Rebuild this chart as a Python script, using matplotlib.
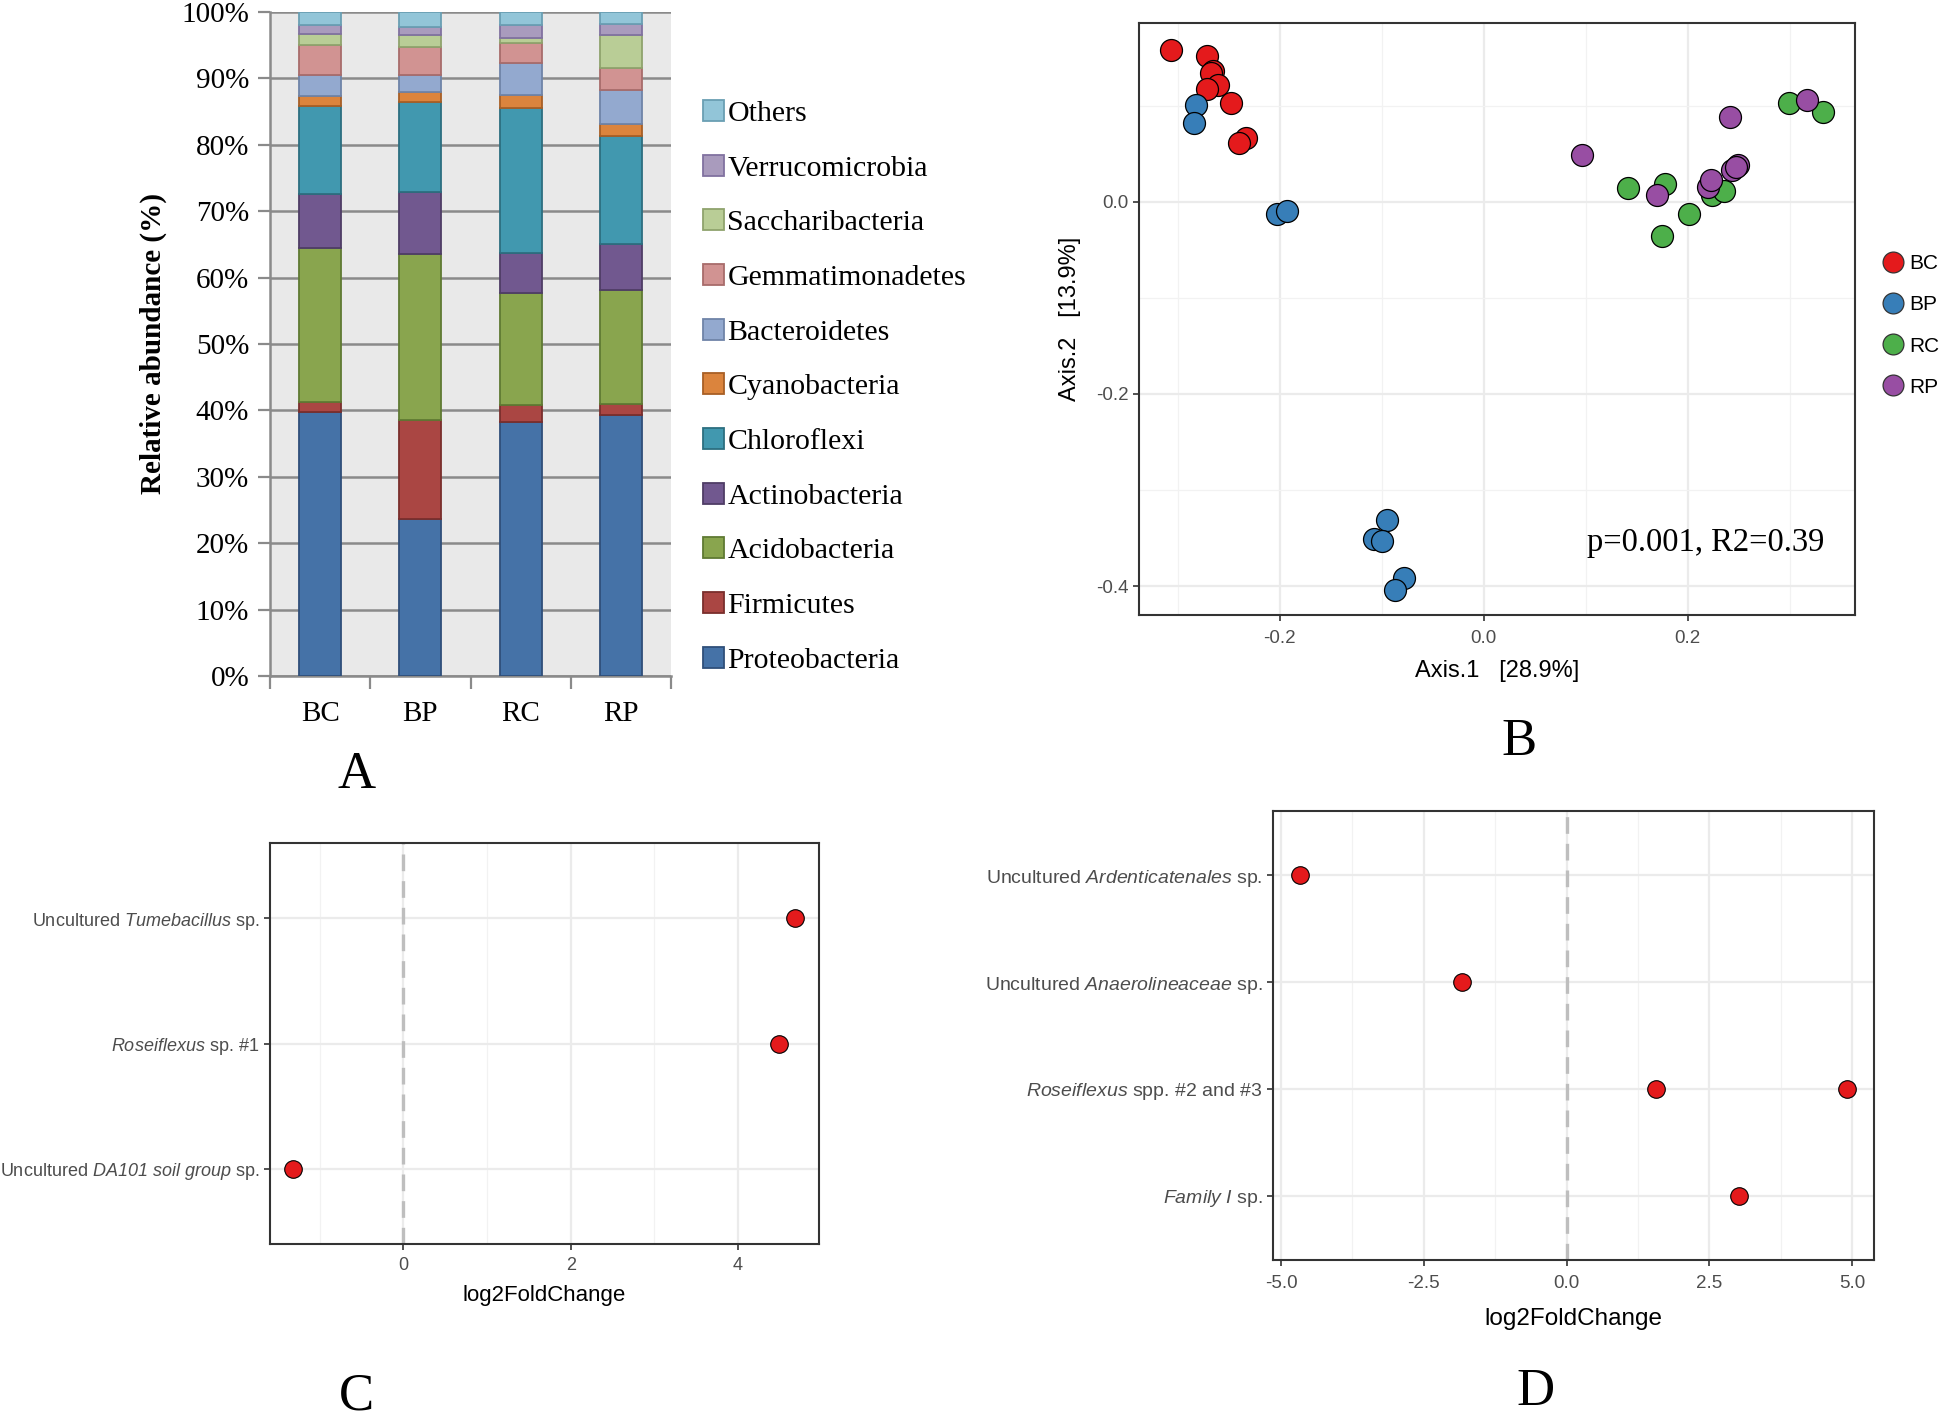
import matplotlib
matplotlib.use('Agg')
import matplotlib.pyplot as plt
from matplotlib.lines import Line2D
import numpy as np

plt.rcParams['mathtext.fontset'] = 'custom'
plt.rcParams['mathtext.rm'] = 'Liberation Sans'
plt.rcParams['mathtext.it'] = 'Liberation Sans:italic'
plt.rcParams['mathtext.sf'] = 'Liberation Sans:italic'
plt.rcParams['axes.unicode_minus'] = False

SERIF = 'Liberation Serif'
SANS = 'Liberation Sans'

# ---- Panel A: relative abundance (%) per phylum, samples BC, BP, RC, RP ----
samples = ['BC', 'BP', 'RC', 'RP']
proteobacteria = [39.7, 23.7, 38.2, 39.3]
firmicutes = [1.6, 14.9, 2.6, 1.7]
acidobacteria = [23.2, 25.0, 16.9, 17.1]
actinobacteria = [8.1, 9.3, 6.0, 6.9]
chloroflexi = [13.2, 13.6, 21.8, 16.3]
cyanobacteria = [1.6, 1.4, 2.0, 1.9]
bacteroidetes = [3.1, 2.6, 4.8, 5.1]
gemmatimonadetes = [4.6, 4.3, 3.1, 3.2]
saccharibacteria = [1.6, 1.7, 0.7, 5.0]
verrucomicrobia = [1.4, 1.2, 2.0, 1.7]
others = [1.9, 2.3, 1.9, 1.8]

phyla = ['Proteobacteria', 'Firmicutes', 'Acidobacteria', 'Actinobacteria', 'Chloroflexi',
         'Cyanobacteria', 'Bacteroidetes', 'Gemmatimonadetes', 'Saccharibacteria',
         'Verrucomicrobia', 'Others']
phylum_values = [proteobacteria, firmicutes, acidobacteria, actinobacteria, chloroflexi,
                 cyanobacteria, bacteroidetes, gemmatimonadetes, saccharibacteria,
                 verrucomicrobia, others]
phylum_colors = ['#4572A7', '#AA4643', '#89A54E', '#71588F', '#4198AF', '#DB843D',
                 '#93A9CF', '#D19392', '#B9CD96', '#A99BBD', '#92C5D8']
phylum_edges = ['#2F4F7A', '#7A2E2C', '#5F7A33', '#4F3D66', '#2C6F80', '#A85F25',
                '#6F84A8', '#A86C6B', '#8FA36D', '#8172A0', '#6A9FB3']

# ---- Panel B: PCoA coordinates ----
bc_x = [-0.307, -0.271, -0.265, -0.267, -0.261, -0.271, -0.248, -0.233, -0.240]
bc_y = [0.158, 0.152, 0.136, 0.134, 0.122, 0.117, 0.103, 0.066, 0.061]
bp_x = [-0.282, -0.284, -0.203, -0.193, -0.095, -0.108, -0.100, -0.078, -0.087]
bp_y = [0.101, 0.082, -0.013, -0.010, -0.331, -0.351, -0.353, -0.391, -0.404]
rc_x = [0.299, 0.333, 0.141, 0.178, 0.175, 0.201, 0.224, 0.236]
rc_y = [0.103, 0.093, 0.014, 0.018, -0.036, -0.013, 0.007, 0.011]
rp_x = [0.317, 0.241, 0.096, 0.170, 0.220, 0.223, 0.243, 0.249, 0.247]
rp_y = [0.106, 0.088, 0.049, 0.007, 0.015, 0.023, 0.033, 0.038, 0.036]
group_names = ['BC', 'BP', 'RC', 'RP']
group_colors = ['#E41A1C', '#377EB8', '#4DAF4A', '#984EA3']

# ---- Panel C: log2 fold change (bottom to top) ----
c_labels = ['Uncultured $\\mathsf{DA101\\ soil\\ group}$ sp.',
            '$\\mathsf{Roseiflexus}$ sp. #1',
            'Uncultured $\\mathsf{Tumebacillus}$ sp.']
c_taxon = [2, 1, 0]
c_lfc = [4.68, 4.49, -1.32]

# ---- Panel D: log2 fold change (bottom to top) ----
d_labels = ['$\\mathsf{Family\\ I}$ sp.',
            '$\\mathsf{Roseiflexus}$ spp. #2 and #3',
            'Uncultured $\\mathsf{Anaerolineaceae}$ sp.',
            'Uncultured $\\mathsf{Ardenticatenales}$ sp.']
d_taxon = [3, 2, 1, 1, 0]
d_lfc = [-4.67, -1.84, 1.57, 4.91, 3.02]

fig = plt.figure(figsize=(19.46, 14.19), dpi=100)


def fx(px):
    return px / 1946


def fy(py):
    return 1 - py / 1419


# Panel A - stacked bars
axA = fig.add_axes([fx(270), fy(676), fx(401), 664 / 1419])
axA.set_facecolor('#E9E9E9')
xpos = np.arange(1, len(samples) + 1)
bottom = np.zeros(len(samples))
handles = []
for name, vals, col, ec in zip(phyla, phylum_values, phylum_colors, phylum_edges):
    b = axA.bar(xpos, vals, width=0.42, bottom=bottom, color=col, edgecolor=ec,
                linewidth=1.3, label=name, zorder=3)
    handles.append(b)
    bottom += np.array(vals)
axA.set_xlim(0.5, len(samples) + 0.5)
axA.set_ylim(0, 100)
axA.set_yticks(range(0, 101, 10))
axA.set_yticklabels([f'{v}%' for v in range(0, 101, 10)], fontfamily=SERIF, fontsize=21)
axA.set_xticks(xpos)
axA.set_xticklabels(samples, fontfamily=SERIF, fontsize=21)
axA.set_xticks(np.arange(0.5, len(samples) + 1), minor=True)
axA.tick_params(axis='x', which='major', length=0, pad=18)
axA.tick_params(axis='x', which='minor', length=9, width=1.6, color='#8A8A8A')
axA.tick_params(axis='y', length=9, width=1.6, color='#8A8A8A', pad=6)
axA.yaxis.grid(True, color='#8A8A8A', linewidth=1.8)
axA.set_axisbelow(True)
for s in ['top', 'right']:
    axA.spines[s].set_visible(False)
for s in ['left', 'bottom']:
    axA.spines[s].set_color('#8A8A8A')
    axA.spines[s].set_linewidth(1.8)
axA.set_ylabel('Relative abundance (%)', fontfamily=SERIF, fontsize=21,
               fontweight='bold', labelpad=10)
axA.legend(handles[::-1], phyla[::-1], loc='upper left',
           bbox_to_anchor=(fx(691), fy(88)), bbox_transform=fig.transFigure,
           frameon=False, prop={'family': SERIF, 'size': 21.5},
           handlelength=0.7, handleheight=0.7, handletextpad=0.12,
           labelspacing=0.93, borderaxespad=0)


def bw_style(ax, tick_size, pad=3.5, border=1.5):
    for s in ax.spines.values():
        s.set_color('#333333')
        s.set_linewidth(border)
    ax.grid(True, which='major', color='#EBEBEB', linewidth=1.6, zorder=0)
    ax.grid(True, which='minor', color='#F2F2F2', linewidth=0.9, zorder=0)
    ax.set_axisbelow(True)
    ax.tick_params(which='major', length=4, width=1.2, color='#333333',
                   labelcolor='#4D4D4D', labelsize=tick_size, pad=pad)
    ax.tick_params(which='minor', length=0)
    for lab in ax.get_xticklabels() + ax.get_yticklabels():
        lab.set_fontfamily(SANS)


# Panel B - PCoA
axB = fig.add_axes([fx(1139), fy(615), fx(716), 592 / 1419])
groups_x = [bc_x, bp_x, rc_x, rp_x]
groups_y = [bc_y, bp_y, rc_y, rp_y]
for name, gx, gy, col in zip(group_names, groups_x, groups_y, group_colors):
    axB.scatter(gx, gy, s=250, color=col, edgecolors='black', linewidths=0.9,
                label=name, zorder=3)
axB.set_xlim(-0.338, 0.364)
axB.set_ylim(-0.430, 0.186)
axB.set_xticks([-0.2, 0.0, 0.2])
axB.set_xticklabels(['-0.2', '0.0', '0.2'])
axB.set_xticks([-0.3, -0.1, 0.1, 0.3], minor=True)
axB.set_yticks([-0.4, -0.2, 0.0])
axB.set_yticklabels(['-0.4', '-0.2', '0.0'])
axB.set_yticks([-0.3, -0.1, 0.1], minor=True)
bw_style(axB, 13.5)
axB.tick_params(axis='x', pad=6.5)
axB.set_xlabel('Axis.1   [28.9%]', fontfamily=SANS, fontsize=17, labelpad=10)
axB.set_ylabel('Axis.2   [13.9%]', fontfamily=SANS, fontsize=17, labelpad=11)
axB.text(0.334, -0.355, 'p=0.001, R2=0.39', ha='right', va='center',
         fontfamily=SERIF, fontsize=23.5)
leg_handles = [Line2D([], [], marker='o', linestyle='', markersize=15,
                      markerfacecolor=c, markeredgecolor='#333333', markeredgewidth=0.9)
               for c in group_colors]
axB.legend(leg_handles, group_names, loc='upper left',
           bbox_to_anchor=(fx(1874), fy(246)), bbox_transform=fig.transFigure,
           frameon=False, prop={'family': SANS, 'size': 15},
           handlelength=1.0, handletextpad=0.3, labelspacing=1.06, borderaxespad=0)

# Panel C
axC = fig.add_axes([fx(270), fy(1244), fx(549), 401 / 1419])
axC.axvline(0, color='#BEBEBE', linestyle=(0, (5, 3)), linewidth=2.4, zorder=1)
axC.scatter(c_lfc, np.array(c_taxon) + 1, s=160, color='#E41A1C',
            edgecolors='black', linewidths=0.8, zorder=3)
axC.set_xlim(-1.596, 4.97)
axC.set_ylim(0.4, len(c_labels) + 0.6)
axC.set_xticks([0, 2, 4])
axC.set_xticks([-1, 1, 3], minor=True)
axC.set_yticks(np.arange(1, len(c_labels) + 1))
axC.set_yticklabels(c_labels)
bw_style(axC, 13, pad=5)
axC.tick_params(axis='y', labelsize=13, pad=3.5)
axC.set_xlabel('log2FoldChange', fontfamily=SANS, fontsize=16, labelpad=8)

# Panel D
axD = fig.add_axes([fx(1273), fy(1260), fx(601), 449 / 1419])
axD.axvline(0, color='#BEBEBE', linestyle=(0, (5, 3)), linewidth=2.4, zorder=1)
axD.scatter(d_lfc, np.array(d_taxon) + 1, s=160, color='#E41A1C',
            edgecolors='black', linewidths=0.8, zorder=3)
axD.set_xlim(-5.14, 5.38)
axD.set_ylim(0.4, len(d_labels) + 0.6)
axD.set_xticks([-5.0, -2.5, 0.0, 2.5, 5.0])
axD.set_xticklabels(['-5.0', '-2.5', '0.0', '2.5', '5.0'])
axD.set_xticks([-3.75, -1.25, 1.25, 3.75], minor=True)
axD.set_yticks(np.arange(1, len(d_labels) + 1))
axD.set_yticklabels(d_labels)
bw_style(axD, 13.5, pad=7)
axD.tick_params(axis='y', labelsize=14, pad=3.5)
axD.set_xlabel('log2FoldChange', fontfamily=SANS, fontsize=17.5, labelpad=11)

# panel letters
for letter, px, py in [('A', 357, 775), ('B', 1519, 742), ('C', 356, 1396), ('D', 1536, 1392)]:
    fig.text(fx(px), fy(py), letter, ha='center', va='center', fontfamily=SERIF, fontsize=38)

fig.savefig('out.png', dpi=100)
